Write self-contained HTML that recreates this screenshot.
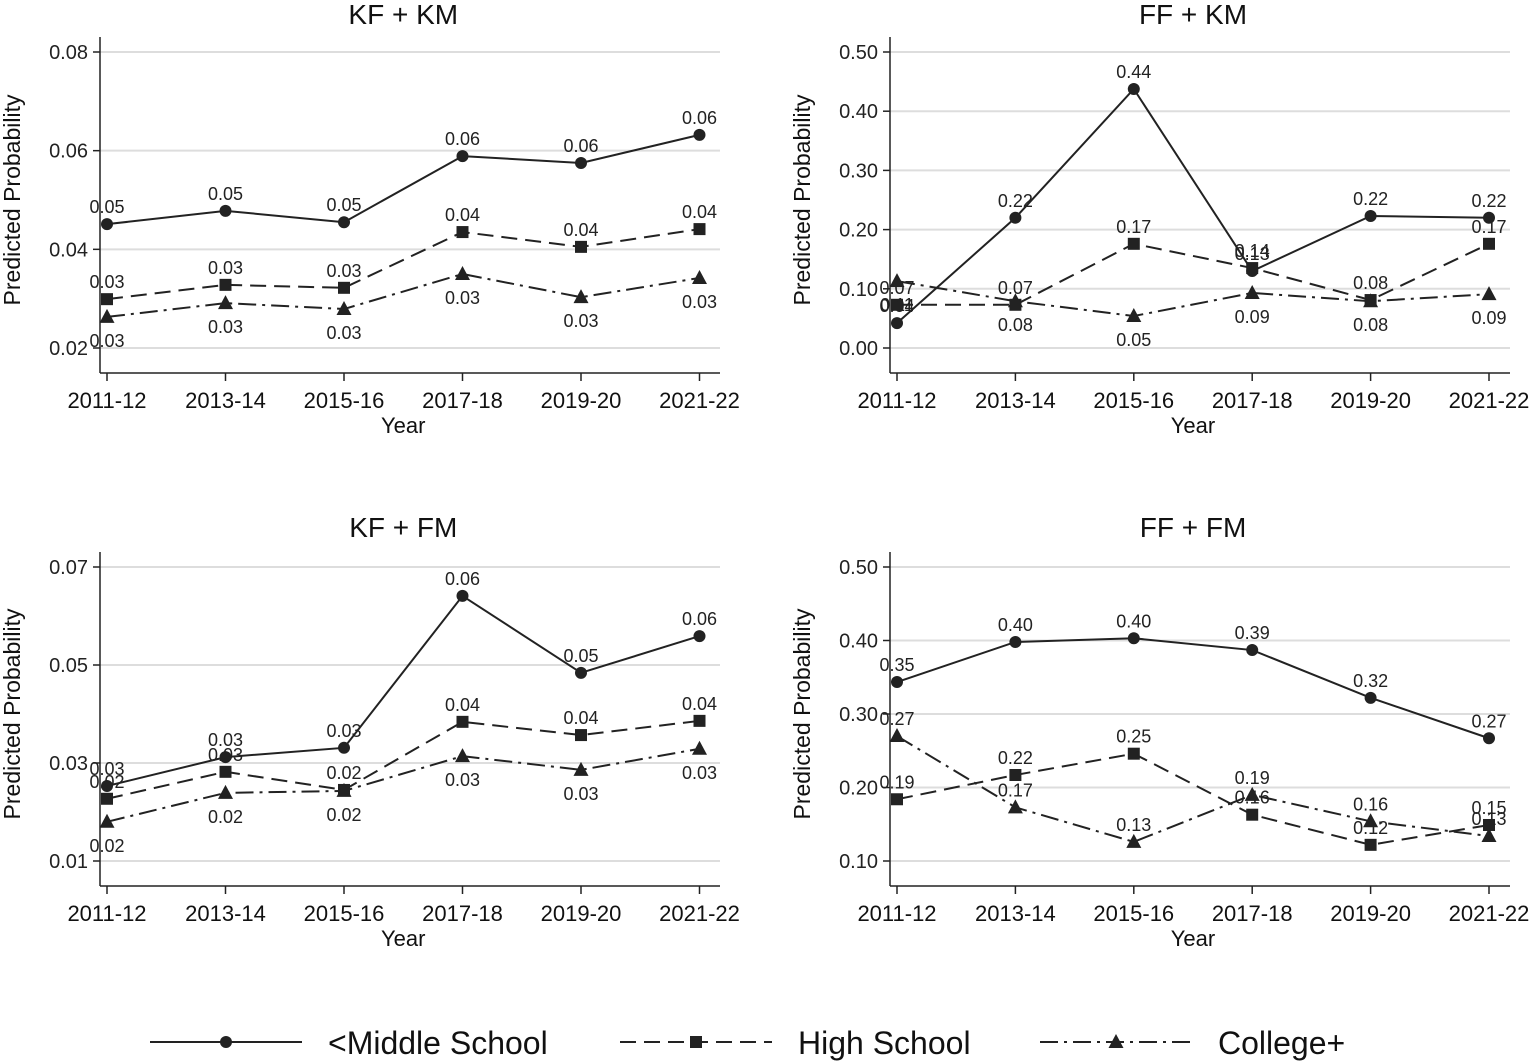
<!DOCTYPE html>
<html><head><meta charset="utf-8"><style>
body{margin:0;background:#fff;}
svg{display:block;font-family:"Liberation Sans",sans-serif;}
</style></head><body>
<svg id="c" width="1535" height="1062"></svg>
<script>
const years=["2011-12","2013-14","2015-16","2017-18","2019-20","2021-22"];
const kfkmMid=[0.0451,0.0478,0.0455,0.0589,0.0575,0.0632];
const kfkmHS=[0.0299,0.0328,0.0322,0.0435,0.0405,0.0441];
const kfkmCol=[0.0263,0.0291,0.0279,0.0350,0.0303,0.0342];
const kfkmMidLab=["0.05","0.05","0.05","0.06","0.06","0.06"];
const kfkmHSLab=["0.03","0.03","0.03","0.04","0.04","0.04"];
const kfkmColLab=["0.03","0.03","0.03","0.03","0.03","0.03"];
const ffkmMid=[0.042,0.220,0.4375,0.130,0.223,0.220];
const ffkmHS=[0.073,0.073,0.176,0.135,0.081,0.176];
const ffkmCol=[0.113,0.079,0.054,0.093,0.079,0.091];
const ffkmMidLab=["0.04","0.22","0.44","0.13","0.22","0.22"];
const ffkmHSLab=["0.07","0.07","0.17","0.14","0.08","0.17"];
const ffkmColLab=["0.11","0.08","0.05","0.09","0.08","0.09"];
const kffmMid=[0.0253,0.0312,0.0331,0.0641,0.0484,0.0559];
const kffmHS=[0.0227,0.0282,0.0245,0.0384,0.0357,0.0386];
const kffmCol=[0.0180,0.0239,0.0243,0.0314,0.0286,0.0329];
const kffmMidLab=["0.03","0.03","0.03","0.06","0.05","0.06"];
const kffmHSLab=["0.02","0.03","0.02","0.04","0.04","0.04"];
const kffmColLab=["0.02","0.02","0.02","0.03","0.03","0.03"];
const fffmMid=[0.3435,0.398,0.403,0.387,0.322,0.267];
const fffmHS=[0.184,0.217,0.246,0.163,0.122,0.149];
const fffmCol=[0.270,0.173,0.126,0.190,0.154,0.134];
const fffmMidLab=["0.35","0.40","0.40","0.39","0.32","0.27"];
const fffmHSLab=["0.19","0.22","0.25","0.16","0.12","0.15"];
const fffmColLab=["0.27","0.17","0.13","0.19","0.16","0.13"];
const ticksKFKM=[0.02,0.04,0.06,0.08];
const ticksFFKM=[0,0.1,0.2,0.3,0.4,0.5];
const ticksKFFM=[0.01,0.03,0.05,0.07];
const ticksFFFM=[0.1,0.2,0.3,0.4,0.5];

const NS="http://www.w3.org/2000/svg";
const svg=document.getElementById('c');
function mk(tag,attrs,parent,text){const e=document.createElementNS(NS,tag);for(const k in attrs)e.setAttribute(k,attrs[k]);if(text!==undefined)e.textContent=text;(parent||svg).appendChild(e);return e;}
const DASH={mid:"",hs:"16,8",col:"18,6,3,6"};
function marker(g,kind,x,y){
  let m;
  if(kind==='mid')m=mk('circle',{cx:x,cy:y,r:6,fill:'#222'},g);
  else if(kind==='hs')m=mk('rect',{x:x-6,y:y-6,width:12,height:12,fill:'#222'},g);
  else m=mk('polygon',{points:`${x},${y-8} ${x-7.5},${y+6} ${x+7.5},${y+6}`,fill:'#222'},g);
  
  
}
function panel(o){
  const g=mk('g',{});
  
  
  const xs=i=>o.x0+i*o.dx;
  const ys=v=>o.yb-(v-o.t[0])*(o.yb-o.yt)/(o.t[o.t.length-1]-o.t[0]);
  const t=mk('text',{x:(o.x0+xs(5))/2,y:o.ty,'text-anchor':'middle','font-size':28,fill:'#111'},g,o.title);
  
  o.t.forEach(v=>{
    const gl=mk('line',{x1:o.ax,x2:o.ax+620,y1:ys(v),y2:ys(v),stroke:'#ddd','stroke-width':2},g);
    
    mk('line',{x1:o.ax-7,x2:o.ax,y1:ys(v),y2:ys(v),stroke:'#222','stroke-width':1.5},g);
    const tl=mk('text',{x:o.ax-12,y:ys(v)+7,'text-anchor':'end','font-size':20,fill:'#222'},g,v.toFixed(2));
    
  });
  mk('line',{x1:o.ax,x2:o.ax,y1:o.yt-15,y2:o.xa,stroke:'#222','stroke-width':1.5},g);
  mk('line',{x1:o.ax,x2:o.ax+620,y1:o.xa,y2:o.xa,stroke:'#222','stroke-width':1.5},g);
  years.forEach((y,i)=>{
    mk('line',{x1:xs(i),x2:xs(i),y1:o.xa,y2:o.xa+8,stroke:'#222','stroke-width':1.5},g);
    const xl=mk('text',{x:xs(i),y:o.xa+35,'text-anchor':'middle','font-size':22,fill:'#111'},g,y);
    
  });
  const xt=mk('text',{x:(o.x0+xs(5))/2-0,y:o.xa+60,'text-anchor':'middle','font-size':22,fill:'#111'},g,'Year');
  
  const yc=(o.yt+o.yb)/2;
  const yt=mk('text',{x:o.ax-80,y:yc,'text-anchor':'middle','font-size':23,fill:'#111',transform:`rotate(-90 ${o.ax-80} ${yc})`},g,'Predicted Probability');
  
  o.series.forEach(s=>{
    const pts=s.v.map((v,i)=>xs(i)+','+ys(v)).join(' ');
    const pl=mk('polyline',{points:pts,fill:'none',stroke:'#222','stroke-width':2,'stroke-dasharray':DASH[s.k]},g);
    
    s.v.forEach((v,i)=>{
      marker(g,s.k,xs(i),ys(v));
      const dy=s.below?30:-11;
      const lb=mk('text',{x:xs(i),y:ys(v)+dy,'text-anchor':'middle','font-size':18,fill:'#222'},g,s.l[i]);
      
    });
  });
}
panel({name:'panel-kf-km',title:'KF + KM',x0:107,dx:118.5,ax:100,yt:52,yb:348,xa:373,ty:24,t:ticksKFKM,
 series:[{k:'mid',v:kfkmMid,l:kfkmMidLab},{k:'hs',v:kfkmHS,l:kfkmHSLab},{k:'col',v:kfkmCol,l:kfkmColLab,below:true}]});
panel({name:'panel-ff-km',title:'FF + KM',x0:897,dx:118.4,ax:890,yt:52,yb:348,xa:373,ty:24,t:ticksFFKM,
 series:[{k:'mid',v:ffkmMid,l:ffkmMidLab},{k:'hs',v:ffkmHS,l:ffkmHSLab},{k:'col',v:ffkmCol,l:ffkmColLab,below:true}]});
panel({name:'panel-kf-fm',title:'KF + FM',x0:107,dx:118.5,ax:100,yt:567,yb:861,xa:886,ty:537,t:ticksKFFM,
 series:[{k:'mid',v:kffmMid,l:kffmMidLab},{k:'hs',v:kffmHS,l:kffmHSLab},{k:'col',v:kffmCol,l:kffmColLab,below:true}]});
panel({name:'panel-ff-fm',title:'FF + FM',x0:897,dx:118.4,ax:890,yt:567,yb:861,xa:886,ty:537,t:ticksFFFM,
 series:[{k:'mid',v:fffmMid,l:fffmMidLab},{k:'hs',v:fffmHS,l:fffmHSLab},{k:'col',v:fffmCol,l:fffmColLab}]});
const leg=[{k:'mid',x:150,t:'<Middle School'},{k:'hs',x:620,t:'High School'},{k:'col',x:1040,t:'College+'}];
leg.forEach(e=>{
  const g=mk('g',{});
  
  
  mk('line',{x1:e.x,x2:e.x+152,y1:1042,y2:1042,stroke:'#222','stroke-width':2,'stroke-dasharray':DASH[e.k]},g);
  marker(g,e.k,e.x+76,1042);
  mk('text',{x:e.x+178,y:1054,'font-size':32,fill:'#111'},g,e.t);
});
</script>
</body></html>
